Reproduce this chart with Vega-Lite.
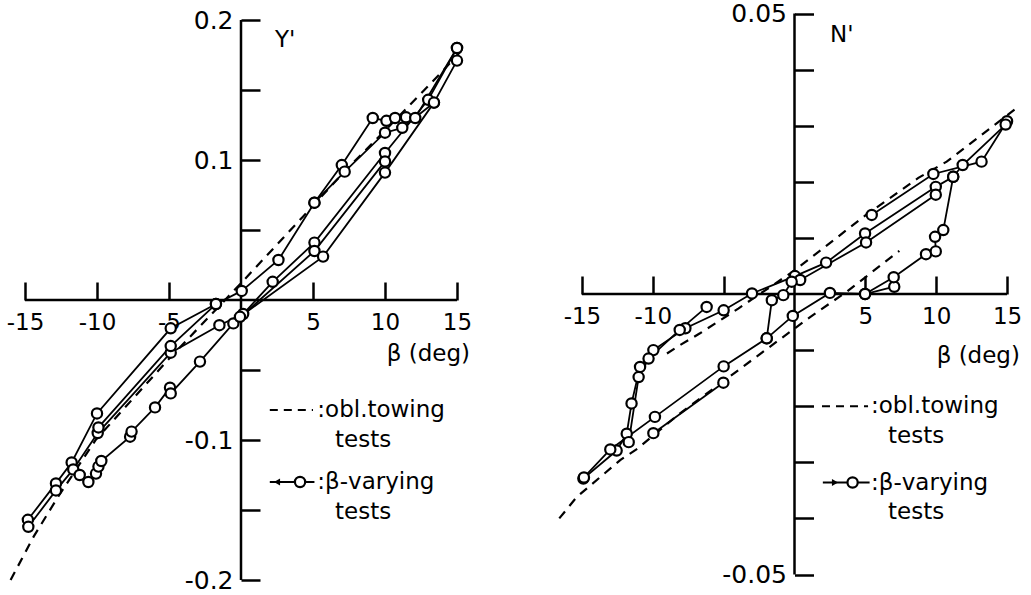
{
  "$schema": "https://vega.github.io/schema/vega-lite/v6.json",
  "background": "white",
  "padding": 0,
  "bounds": "flush",
  "spacing": 20,
  "config": {
    "view": {"stroke": null},
    "axis": {"domain": false, "grid": false, "tickColor": "black", "tickWidth": 2.5, "labelColor": "black", "labelFont": "DejaVu Sans", "labelFontSize": 23, "labelOverlap": false, "labelFlush": false, "labelBound": false, "title": null},
    "text": {"font": "DejaVu Sans", "fontSize": 23, "color": "black"}
  },
  "datasets": {
    "L": [
      {"s": "A", "i": 1, "b": -14.8, "v": -0.157}, {"s": "A", "i": 2, "b": -12.85, "v": -0.131}, {"s": "A", "i": 3, "b": -11.76, "v": -0.116}, {"s": "A", "i": 4, "b": -10.0, "v": -0.081}, {"s": "A", "i": 5, "b": -4.88, "v": -0.0202}, {"s": "A", "i": 6, "b": -1.74, "v": -0.0029}, {"s": "A", "i": 7, "b": 0.05, "v": 0.0065}, {"s": "A", "i": 8, "b": 2.6, "v": 0.0286}, {"s": "A", "i": 9, "b": 5.1, "v": 0.0695}, {"s": "A", "i": 10, "b": 7.0, "v": 0.0964}, {"s": "A", "i": 11, "b": 9.15, "v": 0.130}, {"s": "A", "i": 12, "b": 10.1, "v": 0.128}, {"s": "A", "i": 13, "b": 10.7, "v": 0.130}, {"s": "A", "i": 14, "b": 11.46, "v": 0.1305}, {"s": "A", "i": 15, "b": 12.1, "v": 0.130}, {"s": "A", "i": 16, "b": 15.0, "v": 0.180},
      {"s": "B", "i": 1, "b": 15.0, "v": 0.171}, {"s": "B", "i": 2, "b": 13.4, "v": 0.141}, {"s": "B", "i": 3, "b": 11.2, "v": 0.123}, {"s": "B", "i": 4, "b": 10.0, "v": 0.1195}, {"s": "B", "i": 5, "b": 7.2, "v": 0.0917}, {"s": "B", "i": 6, "b": 5.1, "v": 0.0695},
      {"s": "C", "i": 1, "b": -14.77, "v": -0.162}, {"s": "C", "i": 2, "b": -12.85, "v": -0.136}, {"s": "C", "i": 3, "b": -11.65, "v": -0.121}, {"s": "C", "i": 4, "b": -9.95, "v": -0.095}, {"s": "C", "i": 5, "b": -4.88, "v": -0.0376}, {"s": "C", "i": 6, "b": -1.5, "v": -0.018}, {"s": "C", "i": 7, "b": 0.15, "v": -0.010}, {"s": "C", "i": 8, "b": 2.2, "v": 0.013}, {"s": "C", "i": 9, "b": 5.1, "v": 0.041}, {"s": "C", "i": 10, "b": 10.0, "v": 0.105}, {"s": "C", "i": 11, "b": 13.0, "v": 0.143}, {"s": "C", "i": 12, "b": 15.0, "v": 0.180},
      {"s": "D", "i": 1, "b": -11.2, "v": -0.125}, {"s": "D", "i": 2, "b": -10.6, "v": -0.130}, {"s": "D", "i": 3, "b": -10.07, "v": -0.124}, {"s": "D", "i": 4, "b": -9.9, "v": -0.119}, {"s": "D", "i": 5, "b": -9.7, "v": -0.115}, {"s": "D", "i": 6, "b": -7.7, "v": -0.0976}, {"s": "D", "i": 7, "b": -7.6, "v": -0.094}, {"s": "D", "i": 8, "b": -5.97, "v": -0.0767}, {"s": "D", "i": 9, "b": -4.93, "v": -0.0626}, {"s": "D", "i": 10, "b": -4.88, "v": -0.0667}, {"s": "D", "i": 11, "b": -2.85, "v": -0.044}, {"s": "D", "i": 12, "b": -0.53, "v": -0.0167}, {"s": "D", "i": 13, "b": 5.1, "v": 0.035}, {"s": "D", "i": 14, "b": 10.0, "v": 0.099},
      {"s": "E", "i": 1, "b": 13.4, "v": 0.141}, {"s": "E", "i": 2, "b": 10.0, "v": 0.091}, {"s": "E", "i": 3, "b": 5.7, "v": 0.031}, {"s": "E", "i": 4, "b": -0.07, "v": -0.012},
      {"s": "F", "i": 1, "b": -9.9, "v": -0.091}, {"s": "F", "i": 2, "b": -4.88, "v": -0.0329}, {"s": "F", "i": 3, "b": -1.74, "v": -0.0029}
    ],
    "LD": [
      {"i": 1, "b": -16.0, "v": -0.200}, {"i": 2, "b": -14.4, "v": -0.169}, {"i": 3, "b": -12.7, "v": -0.1405}, {"i": 4, "b": -10.1, "v": -0.100}, {"i": 5, "b": -5.0, "v": -0.042}, {"i": 6, "b": 0.0, "v": 0.012}, {"i": 7, "b": 4.3, "v": 0.0595}, {"i": 8, "b": 7.2, "v": 0.092}, {"i": 9, "b": 10.0, "v": 0.121}, {"i": 10, "b": 14.05, "v": 0.164}, {"i": 11, "b": 15.2, "v": 0.177}
    ],
    "R": [
      {"s": "A", "i": 1, "b": 5.45, "v": 0.0141}, {"s": "A", "i": 2, "b": 9.8, "v": 0.0214}, {"s": "A", "i": 3, "b": 13.2, "v": 0.0236}, {"s": "A", "i": 4, "b": 15.0, "v": 0.0308},
      {"s": "B", "i": 1, "b": 14.9, "v": 0.0302}, {"s": "B", "i": 2, "b": 11.87, "v": 0.0230}, {"s": "B", "i": 3, "b": 11.2, "v": 0.0209}, {"s": "B", "i": 4, "b": 9.97, "v": 0.0191}, {"s": "B", "i": 5, "b": 4.98, "v": 0.0108}, {"s": "B", "i": 6, "b": 2.23, "v": 0.0056}, {"s": "B", "i": 7, "b": 0.03, "v": 0.0032}, {"s": "B", "i": 8, "b": -3.0, "v": 0.0001}, {"s": "B", "i": 9, "b": -5.0, "v": -0.0029}, {"s": "B", "i": 10, "b": -7.7, "v": -0.0061}, {"s": "B", "i": 11, "b": -9.96, "v": -0.0100}, {"s": "B", "i": 12, "b": -10.9, "v": -0.0130}, {"s": "B", "i": 13, "b": -11.5, "v": -0.0195}, {"s": "B", "i": 14, "b": -11.84, "v": -0.0249}, {"s": "B", "i": 15, "b": -12.55, "v": -0.0279}, {"s": "B", "i": 16, "b": -14.9, "v": -0.0329},
      {"s": "C", "i": 1, "b": 9.97, "v": 0.0177}, {"s": "C", "i": 2, "b": 5.05, "v": 0.0092}, {"s": "C", "i": 3, "b": 0.4, "v": 0.0025}, {"s": "C", "i": 4, "b": -0.2, "v": 0.0022}, {"s": "C", "i": 5, "b": -0.79, "v": -0.0002}, {"s": "C", "i": 6, "b": -1.6, "v": -0.0011}, {"s": "C", "i": 7, "b": -1.96, "v": -0.0079},
      {"s": "D", "i": 1, "b": 7.04, "v": 0.0013}, {"s": "D", "i": 2, "b": 4.98, "v": 0.0}, {"s": "D", "i": 3, "b": 2.5, "v": 0.0002}, {"s": "D", "i": 4, "b": -0.12, "v": -0.0039}, {"s": "D", "i": 5, "b": -1.96, "v": -0.0079}, {"s": "D", "i": 6, "b": -5.0, "v": -0.0129}, {"s": "D", "i": 7, "b": -9.85, "v": -0.0219}, {"s": "D", "i": 8, "b": -13.0, "v": -0.0277}, {"s": "D", "i": 9, "b": -14.86, "v": -0.0327},
      {"s": "E", "i": 1, "b": -6.2, "v": -0.0023}, {"s": "E", "i": 2, "b": -8.1, "v": -0.0064}, {"s": "E", "i": 3, "b": -10.3, "v": -0.0115}, {"s": "E", "i": 4, "b": -11.0, "v": -0.0148}, {"s": "E", "i": 5, "b": -11.7, "v": -0.0264},
      {"s": "F", "i": 1, "b": 4.98, "v": 0.0}, {"s": "F", "i": 2, "b": 7.0, "v": 0.003}, {"s": "F", "i": 3, "b": 9.28, "v": 0.0071}, {"s": "F", "i": 4, "b": 9.97, "v": 0.0076}, {"s": "F", "i": 5, "b": 9.92, "v": 0.0102}, {"s": "F", "i": 6, "b": 10.5, "v": 0.0114}, {"s": "F", "i": 7, "b": 11.2, "v": 0.0209},
      {"s": "G", "i": 1, "b": -9.96, "v": -0.0248}, {"s": "G", "i": 2, "b": -5.02, "v": -0.0158}
    ],
    "RD": [
      {"s": "U", "i": 1, "b": -9.0, "v": -0.0106}, {"s": "U", "i": 2, "b": -8.08, "v": -0.0091}, {"s": "U", "i": 3, "b": -6.67, "v": -0.0070}, {"s": "U", "i": 4, "b": -3.97, "v": -0.0026}, {"s": "U", "i": 5, "b": 0.0, "v": 0.0042}, {"s": "U", "i": 6, "b": 5.0, "v": 0.0140}, {"s": "U", "i": 7, "b": 8.74, "v": 0.0207}, {"s": "U", "i": 8, "b": 10.74, "v": 0.0236}, {"s": "U", "i": 9, "b": 15.8, "v": 0.0334},
      {"s": "W", "i": 1, "b": -16.6, "v": -0.0400}, {"s": "W", "i": 2, "b": -15.37, "v": -0.0362}, {"s": "W", "i": 3, "b": -12.3, "v": -0.0296}, {"s": "W", "i": 4, "b": -11.1, "v": -0.0276}, {"s": "W", "i": 5, "b": -8.1, "v": -0.0213}, {"s": "W", "i": 6, "b": 1.1, "v": -0.0041}, {"s": "W", "i": 7, "b": 3.68, "v": 0.0004}, {"s": "W", "i": 8, "b": 7.4, "v": 0.0077}
    ]
  },
  "hconcat": [
    {
      "width": 500,
      "height": 595,
      "data": {"values": [{}]},
      "layer": [
        {
          "mark": {"type": "rule", "color": "black", "strokeWidth": 2.5},
          "encoding": {
            "x": {"datum": -15, "scale": {"domain": [-16.736, 17.986], "nice": false, "zero": false},
                  "axis": {"values": [-15, -10, -5, 5, 10, 15], "format": "d", "labelExpr": "replace(datum.label, '−', '-')", "offset": -295, "tickSize": -18, "labelPadding": 29}},
            "x2": {"datum": 15},
            "y": {"datum": 0, "scale": {"domain": [-0.2107, 0.2143], "nice": false, "zero": false},
                  "axis": {"values": [-0.2, -0.15, -0.1, -0.05, 0.05, 0.1, 0.15, 0.2], "format": ".1f", "labelFontSize": 25, "labelExpr": "abs(datum.value) > 0.075 && abs(abs(datum.value) - 0.15) > 0.01 ? replace(datum.label, '−', '-') : ''", "offset": -241, "tickSize": -19, "labelPadding": 27}}
          }
        },
        {
          "mark": {"type": "rule", "color": "black", "strokeWidth": 2.5},
          "encoding": {"x": {"datum": 0}, "y": {"datum": -0.2}, "y2": {"datum": 0.2}}
        },
        {
          "data": {"name": "LD"},
          "mark": {"type": "line", "color": "black", "strokeWidth": 2.2, "strokeDash": [9, 7]},
          "encoding": {"x": {"field": "b", "type": "quantitative"}, "y": {"field": "v", "type": "quantitative"}, "order": {"field": "i"}}
        },
        {
          "data": {"name": "L"},
          "mark": {"type": "line", "color": "black", "strokeWidth": 1.8},
          "encoding": {"x": {"field": "b", "type": "quantitative"}, "y": {"field": "v", "type": "quantitative"}, "detail": {"field": "s"}, "order": {"field": "i"}}
        },
        {
          "data": {"name": "L"},
          "mark": {"type": "point", "shape": "circle", "filled": true, "fill": "white", "stroke": "black", "strokeWidth": 2.2, "size": 105, "opacity": 1},
          "encoding": {"x": {"field": "b", "type": "quantitative"}, "y": {"field": "v", "type": "quantitative"}}
        },
        {"mark": {"type": "text", "text": "Y'", "align": "left", "baseline": "middle"}, "encoding": {"x": {"datum": 2.36}, "y": {"datum": 0.186}}},
        {"mark": {"type": "text", "text": "β (deg)", "align": "right", "baseline": "middle"}, "encoding": {"x": {"datum": 15.9}, "y": {"datum": -0.0386}}},
        {"mark": {"type": "rule", "color": "black", "strokeWidth": 2, "strokeDash": [8, 6]}, "encoding": {"x": {"datum": 2.0}, "x2": {"datum": 5.0}, "y": {"datum": -0.0786}}},
        {"mark": {"type": "text", "text": ":obl.towing", "align": "left", "baseline": "middle"}, "encoding": {"x": {"datum": 5.3}, "y": {"datum": -0.0786}}},
        {"mark": {"type": "text", "text": "tests", "align": "left", "baseline": "middle"}, "encoding": {"x": {"datum": 6.53}, "y": {"datum": -0.1}}},
        {"mark": {"type": "rule", "color": "black", "strokeWidth": 2}, "encoding": {"x": {"datum": 2.0}, "x2": {"datum": 5.1}, "y": {"datum": -0.130}}},
        {"mark": {"type": "point", "shape": "triangle-left", "filled": true, "color": "black", "size": 50, "opacity": 1}, "encoding": {"x": {"datum": 2.5}, "y": {"datum": -0.130}}},
        {"mark": {"type": "point", "shape": "circle", "filled": true, "fill": "white", "stroke": "black", "strokeWidth": 2.2, "size": 105, "opacity": 1}, "encoding": {"x": {"datum": 4.1}, "y": {"datum": -0.130}}},
        {"mark": {"type": "text", "text": ":β-varying", "align": "left", "baseline": "middle"}, "encoding": {"x": {"datum": 5.3}, "y": {"datum": -0.130}}},
        {"mark": {"type": "text", "text": "tests", "align": "left", "baseline": "middle"}, "encoding": {"x": {"datum": 6.53}, "y": {"datum": -0.1515}}}
      ]
    },
    {
      "width": 511,
      "height": 595,
      "data": {"values": [{}]},
      "layer": [
        {
          "mark": {"type": "rule", "color": "black", "strokeWidth": 2.5},
          "encoding": {
            "x": {"datum": -15, "scale": {"domain": [-19.372, 16.69], "nice": false, "zero": false},
                  "axis": {"values": [-15, -10, -5, 5, 10, 15], "format": "d", "labelExpr": "datum.value == -5 ? '' : replace(datum.label, '−', '-')", "offset": -301, "tickSize": -18, "labelPadding": 29}},
            "x2": {"datum": 15},
            "y": {"datum": 0, "scale": {"domain": [-0.05365, 0.05241], "nice": false, "zero": false},
                  "axis": {"values": [-0.05, -0.04, -0.03, -0.02, -0.01, 0.01, 0.02, 0.03, 0.04, 0.05], "format": ".2f", "labelFontSize": 25, "labelExpr": "abs(datum.value) > 0.045 ? replace(datum.label, '−', '-') : ''", "offset": -274.5, "tickSize": -19, "labelPadding": 27}}
          }
        },
        {
          "mark": {"type": "rule", "color": "black", "strokeWidth": 2.5},
          "encoding": {"x": {"datum": 0}, "y": {"datum": -0.05}, "y2": {"datum": 0.05}}
        },
        {
          "data": {"name": "RD"},
          "mark": {"type": "line", "color": "black", "strokeWidth": 2.2, "strokeDash": [9, 7]},
          "encoding": {"x": {"field": "b", "type": "quantitative"}, "y": {"field": "v", "type": "quantitative"}, "detail": {"field": "s"}, "order": {"field": "i"}}
        },
        {
          "data": {"name": "R"},
          "mark": {"type": "line", "color": "black", "strokeWidth": 1.8},
          "encoding": {"x": {"field": "b", "type": "quantitative"}, "y": {"field": "v", "type": "quantitative"}, "detail": {"field": "s"}, "order": {"field": "i"}}
        },
        {
          "data": {"name": "R"},
          "mark": {"type": "point", "shape": "circle", "filled": true, "fill": "white", "stroke": "black", "strokeWidth": 2.2, "size": 105, "opacity": 1},
          "encoding": {"x": {"field": "b", "type": "quantitative"}, "y": {"field": "v", "type": "quantitative"}}
        },
        {"mark": {"type": "text", "text": "N'", "align": "left", "baseline": "middle"}, "encoding": {"x": {"datum": 2.5}, "y": {"datum": 0.0462}}},
        {"mark": {"type": "text", "text": "β (deg)", "align": "right", "baseline": "middle"}, "encoding": {"x": {"datum": 15.91}, "y": {"datum": -0.01105}}},
        {"mark": {"type": "rule", "color": "black", "strokeWidth": 2, "strokeDash": [8, 6]}, "encoding": {"x": {"datum": 1.94}, "x2": {"datum": 5.19}, "y": {"datum": -0.0200}}},
        {"mark": {"type": "text", "text": ":obl.towing", "align": "left", "baseline": "middle"}, "encoding": {"x": {"datum": 5.4}, "y": {"datum": -0.0200}}},
        {"mark": {"type": "text", "text": "tests", "align": "left", "baseline": "middle"}, "encoding": {"x": {"datum": 6.6}, "y": {"datum": -0.02536}}},
        {"mark": {"type": "rule", "color": "black", "strokeWidth": 2}, "encoding": {"x": {"datum": 2.0}, "x2": {"datum": 5.3}, "y": {"datum": -0.0336}}},
        {"mark": {"type": "point", "shape": "triangle-right", "filled": true, "color": "black", "size": 50, "opacity": 1}, "encoding": {"x": {"datum": 2.86}, "y": {"datum": -0.0336}}},
        {"mark": {"type": "point", "shape": "circle", "filled": true, "fill": "white", "stroke": "black", "strokeWidth": 2.2, "size": 105, "opacity": 1}, "encoding": {"x": {"datum": 4.1}, "y": {"datum": -0.0336}}},
        {"mark": {"type": "text", "text": ":β-varying", "align": "left", "baseline": "middle"}, "encoding": {"x": {"datum": 5.4}, "y": {"datum": -0.0336}}},
        {"mark": {"type": "text", "text": "tests", "align": "left", "baseline": "middle"}, "encoding": {"x": {"datum": 6.6}, "y": {"datum": -0.03893}}}
      ]
    }
  ]
}
